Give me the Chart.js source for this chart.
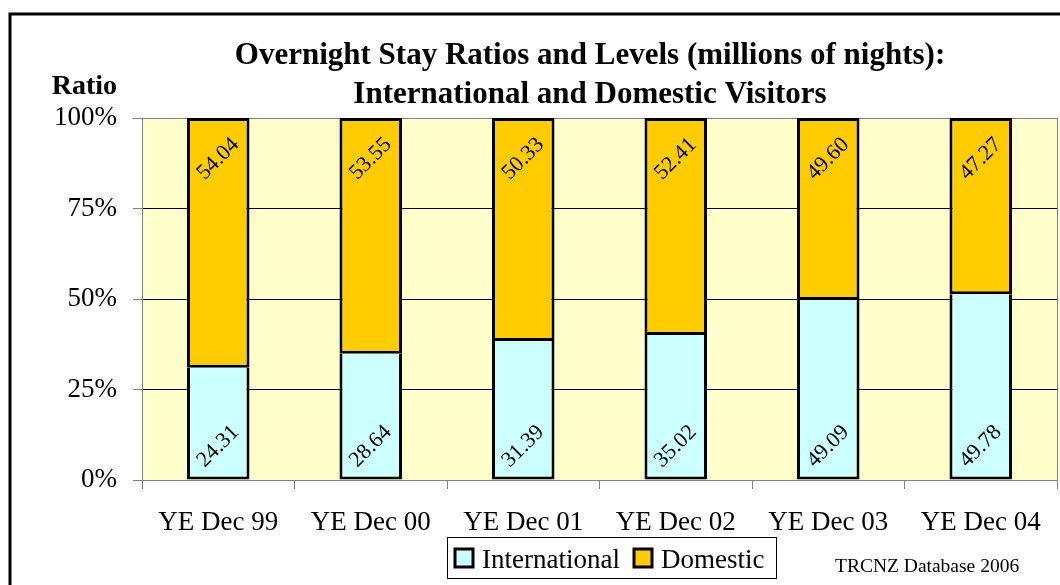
<!DOCTYPE html>
<html>
<head>
<meta charset="utf-8">
<script src="https://cdn.jsdelivr.net/npm/chart.js@4.4.1/dist/chart.umd.min.js"></script>
<style>
  html, body { margin: 0; padding: 0; background: #fff; }
  canvas { display: block; }
</style>
</head>
<body>
<canvas id="stayChart" width="1060" height="585"></canvas>
<script>
/* ---- data (millions of nights) ---- */
const years         = ['YE Dec 99', 'YE Dec 00', 'YE Dec 01', 'YE Dec 02', 'YE Dec 03', 'YE Dec 04'];
const international = [24.31, 28.64, 31.39, 35.02, 49.09, 49.78];
const domestic      = [54.04, 53.55, 50.33, 52.41, 49.60, 47.27];
const yTicks        = [0, 25, 50, 75, 100];

// share of each year's total, so the stack reaches 100%
const intlPct = international.map((v, i) => v / (v + domestic[i]) * 100);
const domPct  = domestic.map((v, i) => v / (international[i] + v) * 100);

const SERIF = '"Liberation Serif", "Times New Roman", serif';
const levels = [international, domestic];

/* ---- frame, plot background, title, legend, source ---- */
const decorPlugin = {
  id: 'decor',
  beforeDraw(chart) {
    const { ctx, chartArea: a } = chart;
    ctx.save();
    ctx.fillStyle = '#fff';
    ctx.fillRect(0, 0, chart.width, chart.height);
    ctx.fillStyle = '#FFFFCC';
    ctx.fillRect(a.left, a.top, a.right - a.left, a.bottom - a.top);
    ctx.strokeStyle = '#808080';
    ctx.lineWidth = 1;
    ctx.beginPath();
    ctx.moveTo(a.right + 0.5, a.top);
    ctx.lineTo(a.right + 0.5, a.bottom);
    ctx.stroke();
    ctx.restore();
  },
  afterDraw(chart) {
    const { ctx } = chart;
    ctx.save();
    // outer frame
    ctx.strokeStyle = '#000';
    ctx.lineWidth = 3;
    ctx.strokeRect(10, 14, 1200, 700);

    // title
    ctx.fillStyle = '#000';
    ctx.textAlign = 'center';
    ctx.textBaseline = 'alphabetic';
    ctx.font = 'bold 31px ' + SERIF;
    ctx.fillText('Overnight Stay Ratios and Levels (millions of nights):', 590, 64);
    ctx.fillText('International and Domestic Visitors', 590, 103);

    // axis caption
    ctx.textAlign = 'right';
    ctx.font = 'bold 28px ' + SERIF;
    ctx.fillText('Ratio', 117, 94);

    // legend box
    ctx.strokeStyle = '#000';
    ctx.lineWidth = 1;
    ctx.strokeRect(447.5, 537.5, 329, 41);
    ctx.textAlign = 'left';
    ctx.font = '27px ' + SERIF;
    const items = [[455, 482], [634, 661]];
    chart.data.datasets.forEach((ds, i) => {
      const [bx, tx] = items[i];
      ctx.fillStyle = ds.backgroundColor;
      ctx.fillRect(bx, 549, 18, 18);
      ctx.lineWidth = 3;
      ctx.strokeRect(bx, 549, 18, 18);
      ctx.fillStyle = '#000';
      ctx.fillText(ds.label, tx, 568);
    });

    // source note
    ctx.font = '19.5px ' + SERIF;
    ctx.fillText('TRCNZ Database 2006', 835, 572);
    ctx.restore();
  },
};

/* ---- rotated level labels inside each segment ---- */
const levelLabels = {
  id: 'levelLabels',
  afterDatasetsDraw(chart) {
    const { ctx } = chart;
    ctx.save();
    ctx.font = '22px ' + SERIF;
    ctx.fillStyle = '#000';
    ctx.textAlign = 'center';
    ctx.textBaseline = 'middle';
    chart.data.datasets.forEach((ds, di) => {
      chart.getDatasetMeta(di).data.forEach((bar, i) => {
        const cy = di === 0 ? bar.base - 33 : bar.y + 41;
        ctx.save();
        ctx.translate(bar.x, cy);
        ctx.rotate(-Math.PI / 4);
        ctx.fillText(levels[di][i].toFixed(2), 0, 0);
        ctx.restore();
      });
    });
    ctx.restore();
  },
};

const barStyle = {
  borderColor: '#000',
  borderSkipped: false,
  categoryPercentage: 1,
  barPercentage: 0.41,
};

new Chart(document.getElementById('stayChart'), {
  type: 'bar',
  data: {
    labels: years,
    datasets: [
      { ...barStyle, label: 'International', data: intlPct, backgroundColor: '#CCFFFF',
        borderWidth: { top: 0, left: 3, right: 3, bottom: 3 } },
      { ...barStyle, label: 'Domestic', data: domPct, backgroundColor: '#FFCC00',
        borderWidth: 3 },
    ],
  },
  options: {
    responsive: false,
    animation: false,
    devicePixelRatio: 1,
    layout: { padding: { top: 118, left: 0, right: 3, bottom: 0 } },
    plugins: {
      legend: { display: false },
      title: { display: false },
      tooltip: { enabled: false },
    },
    scales: {
      x: {
        stacked: true,
        afterFit: s => { s.height = 105; },
        grid: { offset: true, drawOnChartArea: false, tickLength: 9, color: '#808080' },
        border: { color: '#808080' },
        ticks: { color: '#000', font: { family: SERIF, size: 27 }, padding: 18, maxRotation: 0 },
      },
      y: {
        stacked: true,
        min: 0,
        max: 100,
        afterFit: s => { s.width = 142; },
        afterBuildTicks: s => { s.ticks = yTicks.map(v => ({ value: v })); },
        grid: {
          tickLength: 9,
          color: c => (c.tick && (c.tick.value === 100 || c.tick.value === 0)) ? '#808080' : '#000',
          tickColor: '#808080',
        },
        border: { color: '#808080' },
        ticks: {
          color: '#000',
          font: { family: SERIF, size: 27 },
          padding: 16,
          callback: v => v + '%',
        },
      },
    },
  },
  plugins: [decorPlugin, levelLabels],
});
</script>
</body>
</html>
